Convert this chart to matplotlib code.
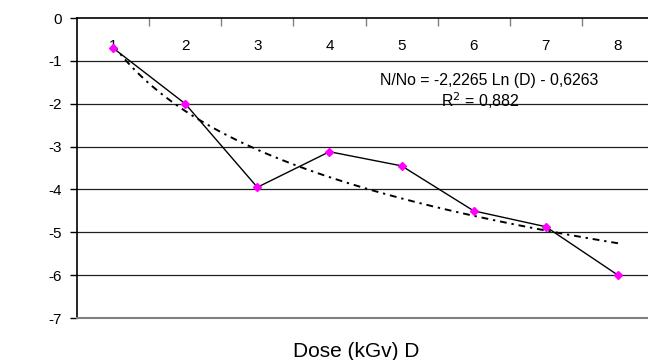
import numpy as np
import matplotlib.pyplot as plt

plt.rcParams['font.family'] = ['Liberation Sans', 'DejaVu Sans']

# data
doses = [1, 2, 3, 4, 5, 6, 7, 8]
log_n = [-0.70, -2.00, -3.95, -3.12, -3.45, -4.50, -4.87, -6.00]
y_ticks = [0, -1, -2, -3, -4, -5, -6, -7]

# logarithmic trend shown on the chart
trend_a = -2.2265
trend_b = -0.6263
eq_text = "N/No = -2,2265 Ln (D) - 0,6263"
r2_text = "R$^2$ = 0,882"

W, H = 648, 360
fig = plt.figure(figsize=(W / 100, H / 100), dpi=100)
ax = fig.add_axes([77 / W, 1 - 318 / H, 577 / W, 300 / H])

x = np.array(doses, dtype=float)
xt = np.linspace(1, 8, 200)
ax.plot(xt, trend_a * np.log(xt) + trend_b, color='black', lw=1.4,
        linestyle=(0, (3.5, 2.5, 1.2, 2.5)))
ax.plot(x, log_n, color='black', lw=1.0, marker='D', markersize=4.5,
        markerfacecolor='#FF00FF', markeredgecolor='#FF00FF')

ax.set_xlim(0.5, 8.5)
ax.set_ylim(-7, 0)

for yv in y_ticks[1:-1]:
    ax.axhline(yv, color='#202020', lw=0.9, zorder=0)

ax.spines['right'].set_visible(False)
ax.spines['bottom'].set_color('#808080')
ax.spines['bottom'].set_linewidth(1.5)
ax.spines['top'].set_linewidth(1.2)
ax.spines['left'].set_linewidth(1.2)

ax.set_yticks(y_ticks)
ax.set_yticklabels([str(v) for v in y_ticks], fontsize=11)
ax.tick_params(axis='y', direction='out', length=5, width=1, pad=6)

# category boundaries as ticks on the top axis
ax.set_xticks(np.arange(1.5, 8.5, 1.0))
ax.set_xticklabels([])
ax.tick_params(axis='x', bottom=False, top=True, direction='in', length=6,
               width=1, color='#808080')
for d in doses:
    ax.text(d, -0.65, str(d), ha='center', va='center', fontsize=11, zorder=1)

ax.text(489 / W, 1 - 80 / H, eq_text, transform=fig.transFigure,
        fontsize=11.4, ha='center', va='center')
ax.text(480 / W, 1 - 101 / H, r2_text, transform=fig.transFigure,
        fontsize=11.4, ha='center', va='center')

fig.text(356 / W, 1 - 357 / H, "Dose (kGv) D", ha='center', va='baseline',
         fontsize=15)

fig.savefig('out.png', dpi=100)
